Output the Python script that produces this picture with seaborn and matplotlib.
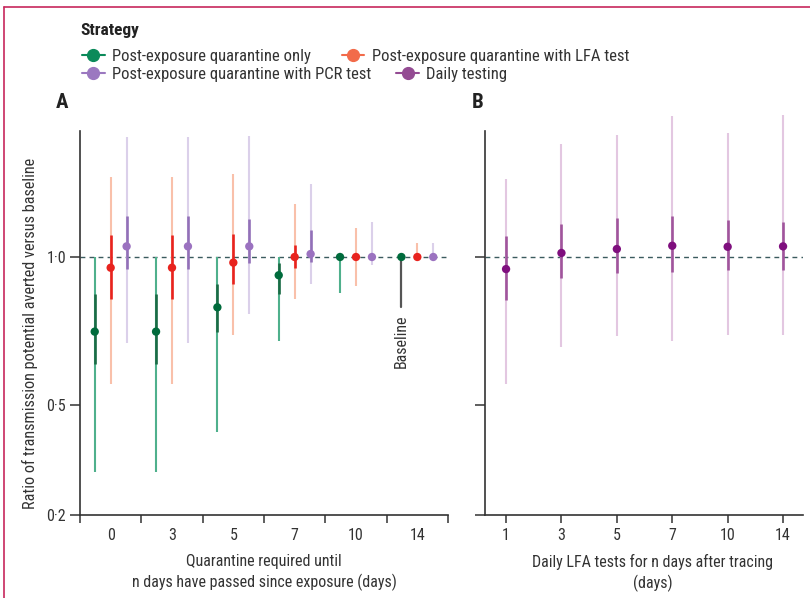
import numpy as np
import pandas as pd
import matplotlib
matplotlib.use("Agg")
import matplotlib.pyplot as plt
import seaborn as sns
from matplotlib import font_manager as fm
from matplotlib.lines import Line2D
from matplotlib.ticker import FixedLocator, NullLocator, FixedFormatter

# ---------------- data ----------------
days_A = ["0", "3", "5", "7", "10", "14"]
days_B = ["1", "3", "5", "7", "10", "14"]
strategies = ["Post-exposure quarantine only", "Post-exposure quarantine with LFA test",
              "Post-exposure quarantine with PCR test", "Daily testing"]

q_est      = [0.705, 0.705, 0.790, 0.918, 1.000, 1.000]
q_inner_lo = [0.607, 0.607, 0.705, 0.839, 0.990, 1.000]
q_inner_hi = [0.839, 0.839, 0.881, 0.974, 1.000, 1.000]
q_outer_lo = [0.318, 0.318, 0.426, 0.676, 0.846, 1.000]
q_outer_hi = [1.000, 1.000, 1.000, 1.000, 1.000, 1.000]

lfa_est      = [0.951, 0.951, 0.974, 1.000, 1.000, 1.000]
lfa_inner_lo = [0.821, 0.821, 0.881, 0.951, 1.000, 1.000]
lfa_inner_hi = [1.107, 1.107, 1.115, 1.059, 1.000, 1.000]
lfa_outer_lo = [0.552, 0.552, 0.694, 0.820, 0.874, 1.000]
lfa_outer_hi = [1.457, 1.457, 1.477, 1.284, 1.146, 1.069]

pcr_est      = [1.051, 1.051, 1.051, 1.014, 1.000, 1.000]
pcr_inner_lo = [0.947, 0.947, 0.971, 0.976, 1.000, 1.000]
pcr_inner_hi = [1.210, 1.210, 1.195, 1.137, 1.000, 1.000]
pcr_outer_lo = [0.669, 0.669, 0.767, 0.880, 0.965, 1.000]
pcr_outer_hi = [1.753, 1.753, 1.766, 1.406, 1.178, 1.069]

daily_est      = [0.945, 1.019, 1.038, 1.054, 1.049, 1.051]
daily_inner_lo = [0.817, 0.906, 0.929, 0.932, 0.941, 0.941]
daily_inner_hi = [1.102, 1.167, 1.200, 1.210, 1.191, 1.180]
daily_outer_lo = [0.551, 0.655, 0.691, 0.675, 0.693, 0.693]
daily_outer_hi = [1.443, 1.700, 1.770, 1.935, 1.791, 1.943]

y_ticks = [0.2, 0.5, 1.0]
y_tick_labels = ["0·2", "0·5", "1·0"]

# ---------------- style ----------------
sns.set_theme(style="ticks")
names = {f.name for f in fm.fontManager.ttflist}
fam = next((n for n in ["Roboto Condensed", "Liberation Sans Narrow", "Open Sans Condensed",
                        "Lato"] if n in names), "DejaVu Sans")
plt.rcParams["font.family"] = [fam, "DejaVu Sans"]
TXT = "#333333"

point_col = {"q": "#006b3c", "lfa": "#e8231e", "pcr": "#9b72c0", "daily": "#7f0f7e"}
inner_col = {"q": "#1a6b45", "lfa": "#e8231e", "pcr": "#9270b8", "daily": "#a0559c"}
outer_col = {"q": "#4fb08c", "lfa": "#f9c0aa", "pcr": "#dbd0ea", "daily": "#e3c7e1"}
legend_col = ["#0b8a5a", "#f26b4a", "#9b78c0", "#944b93"]

fig = plt.figure(figsize=(8.1, 5.98), dpi=100)
H = 406 / 598
B0 = 1 - 515 / 598
axA = fig.add_axes([80 / 810, B0, 368 / 810, H])
axB = fig.add_axes([485 / 810, B0, 318 / 810, H])

def draw(ax, xs, est, ilo, ihi, olo, ohi, key):
    ax.vlines(xs, olo, ohi, color=outer_col[key], lw=1.5, zorder=2)
    ax.vlines(xs, ilo, ihi, color=inner_col[key], lw=1.9, zorder=3)

# Panel A
offsets = {"q": -0.26, "lfa": 0.0, "pcr": 0.26}
idxA = np.arange(len(days_A))
series_A = {
    "q": (q_est, q_inner_lo, q_inner_hi, q_outer_lo, q_outer_hi),
    "lfa": (lfa_est, lfa_inner_lo, lfa_inner_hi, lfa_outer_lo, lfa_outer_hi),
    "pcr": (pcr_est, pcr_inner_lo, pcr_inner_hi, pcr_outer_lo, pcr_outer_hi),
}
rows = []
for key, (e, ilo, ihi, olo, ohi) in series_A.items():
    xs = idxA + offsets[key]
    draw(axA, xs, e, ilo, ihi, olo, ohi, key)
    for x, v in zip(xs, e):
        rows.append({"x": x, "ratio": v, "strategy": key})
dfA = pd.DataFrame(rows)
sns.scatterplot(data=dfA, x="x", y="ratio", hue="strategy", palette=point_col,
                s=36, edgecolor="none", legend=False, ax=axA, zorder=4)

# Panel B
idxB = np.arange(len(days_B))
draw(axB, idxB, daily_est, daily_inner_lo, daily_inner_hi, daily_outer_lo, daily_outer_hi, "daily")
dfB = pd.DataFrame({"x": idxB, "ratio": daily_est, "strategy": "daily"})
sns.scatterplot(data=dfB, x="x", y="ratio", hue="strategy", palette=point_col,
                s=36, edgecolor="none", legend=False, ax=axB, zorder=4)

for ax in (axA, axB):
    ax.set_yscale("symlog", linthresh=0.5, linscale=0.3357)
    ax.set_ylim(0.2, 2.0)
    ax.axhline(1.0, ls=(0, (3.5, 3)), color="#3b5b5e", lw=1.0, zorder=1.5)
    ax.yaxis.set_major_locator(FixedLocator(y_ticks))
    ax.yaxis.set_minor_locator(NullLocator())
    ax.set_yticklabels(y_tick_labels)
    for s in ("top", "right"):
        ax.spines[s].set_visible(False)
    for s in ("left", "bottom"):
        ax.spines[s].set_color(TXT)
        ax.spines[s].set_linewidth(1.2)
    ax.spines["left"].set_bounds(0.2, 1.8)
    ax.tick_params(axis="y", length=7, width=1.1, color=TXT, labelcolor=TXT, labelsize=11.5, pad=3)
    ax.set_xlabel("")
    ax.set_ylabel("")

axB.tick_params(axis="y", labelleft=False)

# Panel A x axis: boundary ticks, labels at centres
axA.set_xlim(-0.5, len(days_A) - 0.5)
axA.xaxis.set_major_locator(FixedLocator(np.arange(-0.5, len(days_A), 1.0)))
axA.xaxis.set_major_formatter(FixedFormatter([""] * (len(days_A) + 1)))
axA.xaxis.set_minor_locator(FixedLocator(idxA))
axA.xaxis.set_minor_formatter(FixedFormatter(days_A))
axA.tick_params(axis="x", which="major", length=6, width=1.1, color=TXT)
axA.tick_params(axis="x", which="minor", length=0, labelsize=11.5, labelcolor=TXT, pad=9)

axB.set_xlim(-0.38, len(days_B) - 0.64)
axB.set_xticks(idxB)
axB.set_xticklabels(days_B)
axB.tick_params(axis="x", length=6, width=1.1, color=TXT, labelsize=11.5, labelcolor=TXT, pad=3)

axA.set_ylabel("Ratio of transmission potential averted versus baseline", fontsize=11.7, color=TXT)
axA.yaxis.set_label_coords(-0.115, 0.447)
axA.set_xlabel("Quarantine required until\nn days have passed since exposure (days)",
               fontsize=11.5, color=TXT, linespacing=1.35)
axA.xaxis.set_label_coords(0.5, -0.096)
axB.set_xlabel("Daily LFA tests for n days after tracing\n(days)", fontsize=11.5, color=TXT,
               linespacing=1.35)
axB.xaxis.set_label_coords(0.528, -0.096)

# Baseline annotation
xb = idxA[days_A.index("14")] + offsets["q"]
axA.plot([xb, xb], [1.0, 0.79], color="#555555", lw=1.6, zorder=3.5)
axA.text(xb, 0.765, "Baseline", rotation=90, ha="center", va="top", fontsize=11.5, color=TXT)

# Panel letters and legend
fig.text(56 / 810, 1 - 102 / 598, "A", fontsize=15, fontweight="bold", color="#222", va="center")
fig.text(472 / 810, 1 - 102 / 598, "B", fontsize=15, fontweight="bold", color="#222", va="center")
fig.text(80 / 810, 1 - 30 / 598, "Strategy", fontsize=12.5, fontweight="bold", color="#222", va="center")

handles = [Line2D([], [], color=c, marker="o", markersize=8.5, lw=1.5) for c in legend_col]
leg_kw = dict(loc="upper left", ncol=2, frameon=False, handlelength=1.35, handletextpad=0.45,
              borderpad=0, borderaxespad=0, fontsize=12)
leg1 = fig.legend(handles=handles[:2], labels=strategies[:2],
                  bbox_to_anchor=(82 / 810, 1 - 49 / 598), columnspacing=1.85, **leg_kw)
leg2 = fig.legend(handles=handles[2:], labels=strategies[2:],
                  bbox_to_anchor=(82 / 810, 1 - 67 / 598), columnspacing=1.5, **leg_kw)
for lg in (leg1, leg2):
    for t in lg.get_texts():
        t.set_color(TXT)

# frame lines
fig.add_artist(Line2D([4 / 810, 4 / 810], [0, 1 - 7 / 598], transform=fig.transFigure,
                      color="#c7285c", lw=1.2))
fig.add_artist(Line2D([4 / 810, 1], [1 - 7 / 598, 1 - 7 / 598], transform=fig.transFigure,
                      color="#c7285c", lw=1.2))

fig.savefig("out.png", dpi=100)
